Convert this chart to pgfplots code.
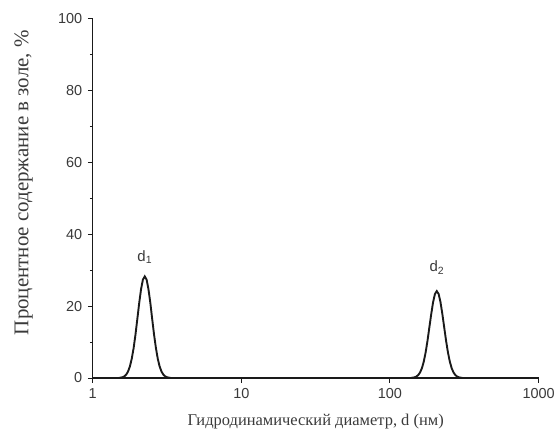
\documentclass[border=0pt]{standalone}
\usepackage{fontspec}
\setmainfont{Liberation Serif}
\newfontfamily\arial{Liberation Sans}
\usepackage{pgfplots}
\pgfplotsset{compat=1.18}
\definecolor{ink}{HTML}{1A1A1A}
\definecolor{txt}{HTML}{3A3A3A}

\begin{document}
\begin{tikzpicture}
\begin{axis}[
    at={(0,0)}, anchor=south west,
    scale only axis, width=447pt, height=360pt,
    xmode=log, log basis x=10,
    xmin=1, xmax=1000, ymin=0, ymax=100,
    xtick={1,10,100,1000}, xticklabels={1,10,100,1000},
    ytick={0,20,40,60,80,100},
    minor y tick num=1,
    axis lines=left, axis line style={-, ink, line width=1.2pt},
    tick align=outside, tick style={ink, line width=1pt},
    major tick length=5pt, minor tick length=3pt,
    tick label style={font=\arial\fontsize{14.5}{15}\selectfont, text=txt},
    /pgf/number format/assume math mode=true,
    xticklabel style={yshift=-2pt},
    yticklabel style={xshift=-2pt},
    xlabel={Гидродинамический диаметр, d (нм)},
    ylabel={Процентное содержание в золе, \%},
    xlabel style={font=\fontsize{16.5}{18}\selectfont, text=txt,
      at={(axis description cs:0.5,-0.12)}, anchor=center},
    ylabel style={font=\fontsize{21}{23}\selectfont, text=txt,
      at={(axis description cs:-0.155,0.544)}, anchor=center},
    clip=false,
]
\addplot[ink, line width=1.9pt] coordinates {
  (1,0) (1.496,0)
  (1.585,0.22) (1.631,0.47) (1.679,0.95) (1.728,1.81) (1.778,3.23)
  (1.830,5.37) (1.884,8.35) (1.939,12.1) (1.995,16.4) (2.054,20.9)
  (2.113,24.7) (2.175,27.4) (2.239,28.3) (2.304,27.4) (2.371,24.7)
  (2.441,20.9) (2.512,16.4) (2.585,12.1) (2.661,8.35) (2.738,5.37)
  (2.818,3.23) (2.901,1.81) (2.985,0.95) (3.073,0.47) (3.162,0.22)
  (3.350,0)
  (138.0,0)
  (146.2,0.18) (150.5,0.40) (154.9,0.82) (159.4,1.55) (164.1,2.76)
  (168.9,4.60) (173.8,7.14) (178.9,10.4) (184.1,14.1) (189.5,17.8)
  (195.0,21.1) (200.7,23.4) (206.5,24.2) (212.6,23.4) (218.8,21.1)
  (225.2,17.8) (231.7,14.1) (238.5,10.4) (245.5,7.14) (252.6,4.60)
  (260.0,2.76) (267.6,1.55) (275.4,0.82) (283.4,0.40) (291.7,0.18)
  (309.0,0)
  (1000,0)
};
\node[font=\arial\fontsize{15}{16}\selectfont, text=txt] at (axis cs:2.24,33.6) {d\textsubscript{1}};
\node[font=\arial\fontsize{15}{16}\selectfont, text=txt] at (axis cs:207,30.8) {d\textsubscript{2}};
\end{axis}
\path[use as bounding box] (-93pt,-60pt) rectangle (465pt,379pt);
\end{tikzpicture}
\end{document}
